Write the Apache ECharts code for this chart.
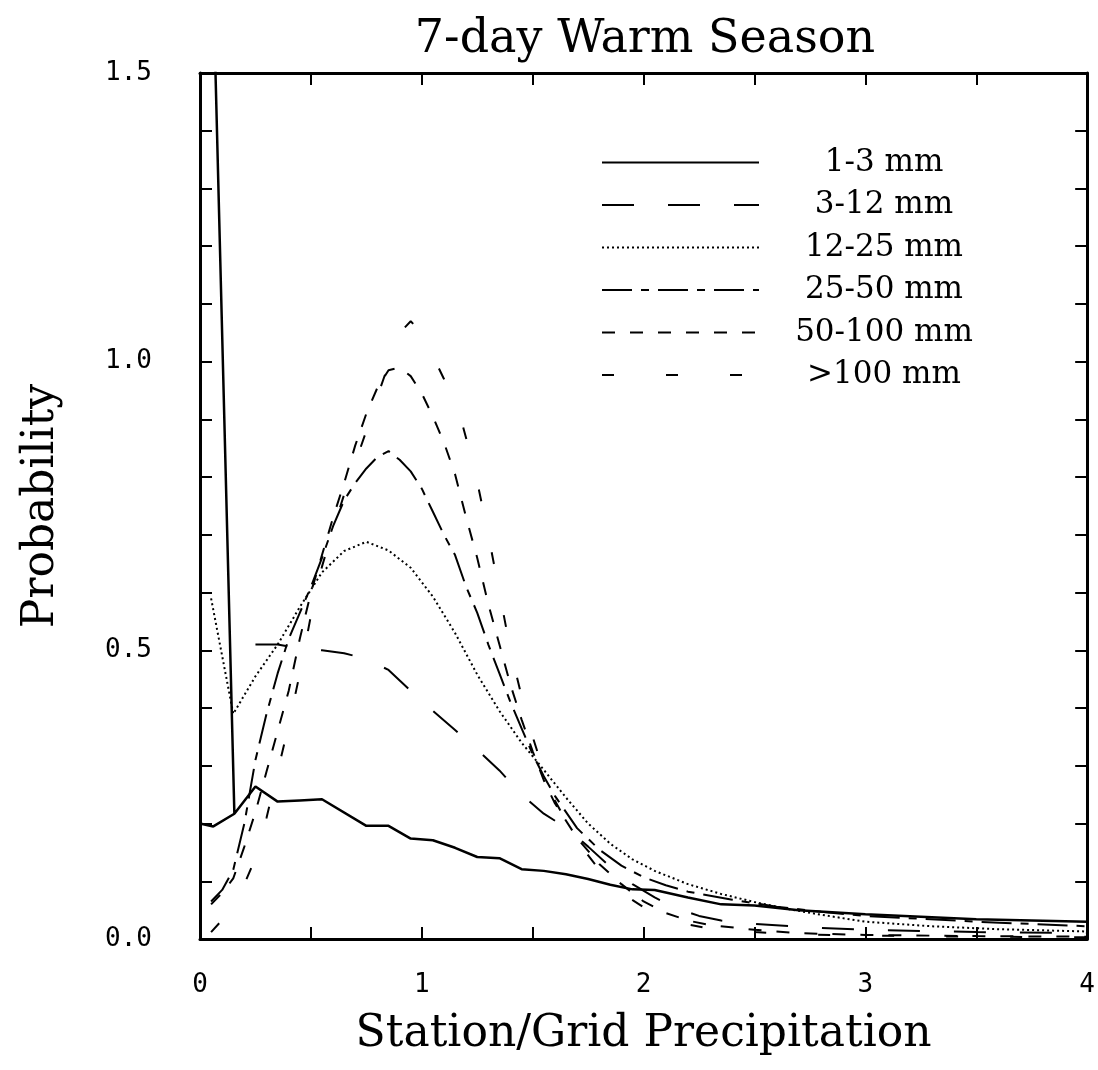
<!DOCTYPE html>
<html>
<head>
<meta charset="utf-8">
<title>7-day Warm Season</title>
<script src="https://cdn.jsdelivr.net/npm/echarts@6/dist/echarts.min.js"></script>
<style>
  html, body { margin: 0; padding: 0; background: #fff; }
  #chart { width: 1098px; height: 1070px; }
</style>
</head>
<body>
<div id="chart"></div>
<script>
// 数据：[降水比值, 概率]
const names = ['1-3 mm', '3-12 mm', '12-25 mm', '25-50 mm', '50-100 mm', '>100 mm'];

// 1-3 mm 在最左端有一个很高的尖峰（超出 1.5 被裁掉）
const s1to3 = [[0,0.2],[0.06,0.195],[0.155,0.217],[0.05,1.8],[0.155,0.217],[0.25,0.264],[0.35,0.238],
  [0.45,0.24],[0.55,0.242],[0.75,0.196],[0.85,0.196],[0.95,0.174],[1.05,0.171],[1.15,0.158],
  [1.25,0.142],[1.35,0.14],[1.45,0.121],[1.55,0.118],[1.65,0.112],[1.75,0.104],[1.85,0.094],
  [1.95,0.086],[2.05,0.085],[2.2,0.072],[2.35,0.06],[2.5,0.058],[2.7,0.05],[3.0,0.043],
  [3.5,0.034],[4.0,0.03]];

const s3to12 = [[0.25,0.51],[0.35,0.51],[0.45,0.503],[0.55,0.5],[0.65,0.495],[0.75,0.485],
  [0.85,0.466],[0.95,0.43],[1.05,0.395],[1.15,0.362],[1.25,0.328],[1.35,0.292],[1.45,0.25],
  [1.55,0.217],[1.65,0.193],[1.75,0.16],[1.85,0.125],[1.95,0.095],[2.05,0.072],[2.15,0.053],
  [2.25,0.04],[2.35,0.032],[2.5,0.026],[2.75,0.02],[3.0,0.016],[3.5,0.012],[4.0,0.01]];

const s12to25 = [[0.05,0.59],[0.15,0.39],[0.25,0.455],[0.35,0.51],[0.45,0.575],[0.55,0.635],
  [0.65,0.672],[0.75,0.688],[0.85,0.673],[0.95,0.643],[1.05,0.593],[1.15,0.53],[1.25,0.458],
  [1.35,0.395],[1.45,0.34],[1.55,0.293],[1.65,0.245],[1.75,0.2],[1.85,0.165],[1.95,0.138],
  [2.05,0.118],[2.2,0.095],[2.35,0.078],[2.5,0.064],[2.65,0.052],[2.8,0.042],[3.0,0.03],
  [3.3,0.022],[3.6,0.017],[4.0,0.013]];

const s25to50 = [[0.05,0.065],[0.1,0.085],[0.15,0.12],[0.2,0.2],[0.25,0.31],[0.3,0.39],[0.35,0.46],
  [0.4,0.52],[0.45,0.565],[0.5,0.61],[0.55,0.66],[0.6,0.715],[0.65,0.76],[0.7,0.79],[0.75,0.815],
  [0.8,0.835],[0.85,0.845],[0.9,0.83],[0.95,0.81],[1.0,0.78],[1.05,0.74],[1.1,0.7],[1.15,0.665],
  [1.2,0.61],[1.25,0.565],[1.3,0.51],[1.35,0.46],[1.4,0.41],[1.45,0.365],[1.5,0.32],[1.55,0.282],
  [1.6,0.248],[1.7,0.192],[1.8,0.155],[1.9,0.127],[2.0,0.107],[2.1,0.093],[2.2,0.082],[2.4,0.068],
  [2.6,0.056],[2.8,0.047],[3.0,0.04],[3.5,0.03],[4.0,0.022]];

const s50to100 = [[0.05,0.06],[0.1,0.08],[0.15,0.105],[0.2,0.16],[0.25,0.22],[0.3,0.29],[0.35,0.36],
  [0.4,0.43],[0.45,0.52],[0.5,0.6],[0.55,0.665],[0.6,0.73],[0.65,0.79],[0.7,0.855],[0.75,0.91],
  [0.8,0.955],[0.85,0.985],[0.9,0.99],[0.95,0.975],[1.0,0.945],[1.05,0.905],[1.1,0.86],[1.15,0.805],
  [1.2,0.73],[1.25,0.66],[1.3,0.58],[1.35,0.51],[1.4,0.44],[1.45,0.38],[1.5,0.325],[1.55,0.275],
  [1.6,0.235],[1.7,0.175],[1.8,0.13],[1.9,0.095],[2.0,0.065],[2.1,0.045],[2.2,0.032],[2.3,0.024],
  [2.5,0.016],[2.7,0.01],[3.0,0.007],[3.5,0.005],[4.0,0.004]];

const s100up = [[0.05,0.012],[0.1,0.033],[0.15,0.06],[0.2,0.095],[0.25,0.14],[0.3,0.21],[0.35,0.29],
  [0.4,0.37],[0.45,0.46],[0.5,0.56],[0.55,0.645],[0.6,0.71],[0.65,0.77],[0.7,0.825],[0.75,0.88],
  [0.8,0.94],[0.85,0.995],[0.9,1.05],[0.95,1.07],[1.0,1.05],[1.05,1.01],[1.1,0.97],[1.17,0.91],
  [1.24,0.81],[1.3,0.7],[1.35,0.6],[1.4,0.5],[1.45,0.42],[1.5,0.35],[1.55,0.29],[1.6,0.24],
  [1.7,0.17],[1.8,0.12],[1.9,0.08],[2.0,0.055],[2.1,0.038],[2.2,0.025],[2.3,0.018],[2.5,0.012],
  [2.7,0.008],[3.0,0.006],[3.5,0.004],[4.0,0.003]];

const allData = [s1to3, s3to12, s12to25, s25to50, s50to100, s100up];
// 线型：实线、长虚线、点线、长短交替、短虚线、稀疏短虚线
const dashTypes = ['solid', [32, 34], [2, 3], [30, 9, 8, 9], [13, 15], [12, 52]];
const lineWidths = [2.5, 2, 2, 2, 2, 2];

const tickFont = 'DejaVu Sans Mono';
const textFont = 'DejaVu Serif';

const chart = echarts.init(document.getElementById('chart'));

// 四周都画刻度（朝内），只有左、下显示标签
function frameAxis(base, showLabel, position) {
  return Object.assign({
    type: 'value',
    position: position,
    axisLine: { show: true, onZero: false, lineStyle: { color: '#000', width: 3 } },
    axisTick: { show: true, inside: true, length: 12, lineStyle: { color: '#000', width: 2 } },
    minorTick: { show: true, length: 12, lineStyle: { color: '#000', width: 2 } },
    splitLine: { show: false },
    minorSplitLine: { show: false },
    axisLabel: { show: showLabel }
  }, base);
}

const option = {
  animation: false,
  backgroundColor: '#fff',
  title: {
    text: '7-day Warm Season',
    left: 640,
    top: 12,
    textAlign: 'center',
    textStyle: { fontFamily: textFont, fontSize: 46, fontWeight: 'normal', color: '#000' }
  },
  grid: { left: 200, right: 10, top: 73, bottom: 131 },
  legend: {
    data: names,
    orient: 'vertical',
    left: 596,
    top: 142,
    itemWidth: 157,
    itemHeight: 14,
    itemGap: 11.5,
    // 图例只画线型，不画圆点
    itemStyle: { opacity: 0 },
    formatter: name => '{t|' + name + '}',
    textStyle: {
      rich: {
        t: { width: 240, align: 'center', fontSize: 31, fontFamily: textFont, color: '#000', lineHeight: 35 }
      }
    }
  },
  xAxis: [
    frameAxis({
      min: 0, max: 4, interval: 1,
      minorTick: { show: true, splitNumber: 2, length: 12, lineStyle: { color: '#000', width: 2 } },
      axisLabel: {
        show: true, margin: 33, fontSize: 26, fontFamily: tickFont, color: '#000',
        formatter: v => String(v)
      },
      name: 'Station/Grid Precipitation',
      nameLocation: 'middle',
      nameGap: 74,
      nameTextStyle: { fontFamily: textFont, fontSize: 44, color: '#000' }
    }, true, 'bottom'),
    frameAxis({
      min: 0, max: 4, interval: 1,
      minorTick: { show: true, splitNumber: 2, length: 12, lineStyle: { color: '#000', width: 2 } }
    }, false, 'top')
  ],
  yAxis: [
    frameAxis({
      min: 0, max: 1.5, interval: 0.5,
      minorTick: { show: true, splitNumber: 5, length: 12, lineStyle: { color: '#000', width: 2 } },
      axisLabel: {
        show: true, margin: 48, fontSize: 26, fontFamily: tickFont, color: '#000',
        formatter: v => v.toFixed(1)
      },
      name: 'Probability',
      nameLocation: 'middle',
      nameRotate: 90,
      nameGap: 136,
      nameTextStyle: { fontFamily: textFont, fontSize: 44, color: '#000' }
    }, true, 'left'),
    frameAxis({
      min: 0, max: 1.5, interval: 0.5,
      minorTick: { show: true, splitNumber: 5, length: 12, lineStyle: { color: '#000', width: 2 } }
    }, false, 'right')
  ],
  series: names.map((name, i) => ({
    name: name,
    type: 'line',
    xAxisIndex: 0,
    yAxisIndex: 0,
    data: allData[i],
    symbol: 'none',
    showSymbol: false,
    clip: true,
    silent: true,
    lineStyle: { color: '#000', width: lineWidths[i], type: dashTypes[i] },
    itemStyle: { color: '#000' }
  }))
};

chart.setOption(option);
</script>
</body>
</html>
